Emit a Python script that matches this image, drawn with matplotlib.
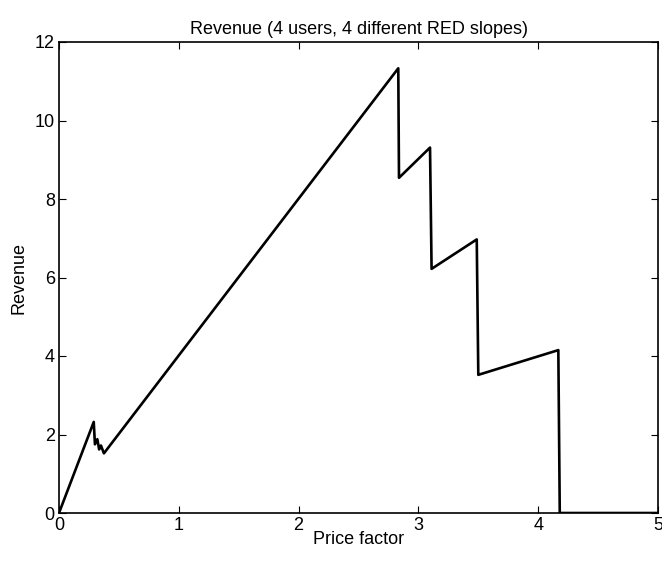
import matplotlib
matplotlib.use('Agg')
import matplotlib.pyplot as plt

# price factor vs revenue
price = [0.0, 0.29, 0.30, 0.32, 0.335, 0.35, 0.375,
         2.832, 2.838, 3.097, 3.11, 3.487, 3.50, 4.168, 4.18, 5.0]
revenue = [0.0, 2.32, 1.75, 1.88, 1.62, 1.72, 1.52,
           11.33, 8.54, 9.31, 6.22, 6.97, 3.52, 4.15, 0.0, 0.0]

x_ticks = [0, 1, 2, 3, 4, 5]
y_ticks = [0, 2, 4, 6, 8, 10, 12]

plt.rcParams['font.family'] = ['Liberation Sans', 'DejaVu Sans']

fig = plt.figure(figsize=(6.62, 5.65), dpi=100)
ax = fig.add_axes([59 / 662, 52 / 565, 599 / 662, 471 / 565])

ax.plot(price, revenue, color='black', linewidth=1.9)

ax.set_xlim(0, 5)
ax.set_ylim(0, 12)
ax.set_xticks(x_ticks)
ax.set_yticks(y_ticks)
ax.tick_params(direction='in', top=True, right=True, length=5, width=0.8,
               labelsize=13, pad=3)
for s in ax.spines.values():
    s.set_linewidth(1.2)

ax.set_xlabel('Price factor', fontsize=13, labelpad=-2)
ax.set_ylabel('Revenue', fontsize=13, labelpad=5)
ax.set_title('Revenue (4 users, 4 different RED slopes)', fontsize=13, pad=6)

fig.savefig('out.png', dpi=100)
